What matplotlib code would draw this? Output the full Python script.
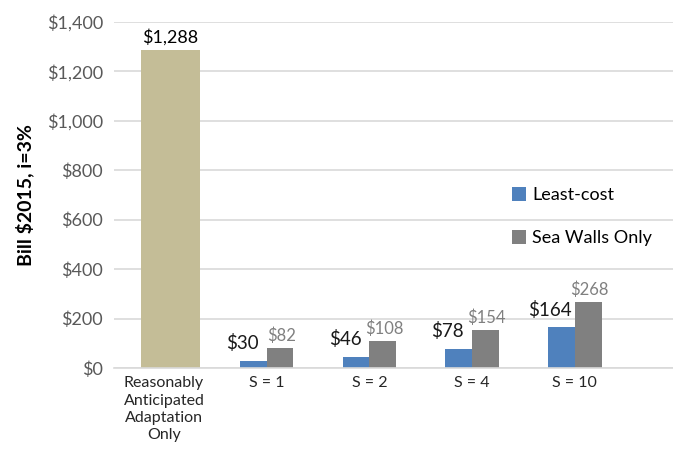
import matplotlib.pyplot as plt
from matplotlib.ticker import FuncFormatter

plt.rcParams["font.family"] = ["Lato", "DejaVu Sans"]

# Annual bill per scenario ($2015, 3% discount rate)
categories = ["Reasonably\nAnticipated\nAdaptation\nOnly", "S = 1", "S = 2", "S = 4", "S = 10"]
baseline_value = 1288
least_cost = [30, 46, 78, 164]
sea_walls = [82, 108, 154, 268]

TAN = "#C4BD97"
BLUE = "#4F81BD"
GRAY = "#808080"
GRID = "#D9D9D9"

fig = plt.figure(figsize=(6.73, 4.51), dpi=100)
ax = fig.add_axes([114 / 673, 1 - 368 / 451, (673 - 114) / 673, (368 - 22) / 451])

bar_w = 0.26
xs = list(range(1, len(categories)))

# baseline scenario: a single wide bar
base = ax.bar(0.063, baseline_value, width=0.575, color=TAN, zorder=2)
b1 = ax.bar([x - bar_w / 2 for x in xs], least_cost, width=bar_w, color=BLUE,
            label="Least-cost", zorder=2)
b2 = ax.bar([x + bar_w / 2 for x in xs], sea_walls, width=bar_w, color=GRAY,
            label="Sea Walls Only", zorder=2)

ax.annotate(f"${baseline_value:,}", (0.063, baseline_value), xytext=(0, 3),
            textcoords="offset points", ha="center", va="bottom",
            fontsize=13, color="black")
for rect, v in zip(b1, least_cost):
    ax.annotate(f"${v:,}", (rect.get_x() + rect.get_width() / 2, v),
                xytext=(-8, 6), textcoords="offset points", ha="center",
                va="bottom", fontsize=13.5, color="#1a1a1a")
for rect, v in zip(b2, sea_walls):
    ax.annotate(f"${v:,}", (rect.get_x() + rect.get_width() / 2, v),
                xytext=(1, 3), textcoords="offset points", ha="center",
                va="bottom", fontsize=12, color=GRAY)

ax.set_ylim(0, 1400)
ax.set_yticks(range(0, 1401, 200))
ax.yaxis.set_major_formatter(FuncFormatter(lambda v, _: f"${v:,.0f}"))
ax.set_xlim(-0.487, 4.956)
ax.set_xticks(range(len(categories)))
ax.set_xticklabels(categories, fontsize=11.5, color="#262626", linespacing=1.3)

ax.tick_params(axis="y", length=0, labelsize=13, labelcolor="#595959", pad=8)
ax.tick_params(axis="x", length=0, pad=6)
ax.grid(axis="y", color=GRID, linewidth=1.2, zorder=0)
for side in ["top", "right", "left"]:
    ax.spines[side].set_visible(False)
ax.spines["bottom"].set_color(GRID)
ax.spines["bottom"].set_linewidth(1.2)

ax.set_ylabel("Bill $2015, i=3%", fontsize=14, fontweight="bold")
ax.yaxis.set_label_coords((34 - 114) / 559, 0.5)

ax.legend(handles=[b1, b2], loc="upper left", bbox_to_anchor=(505 / 673, 1 - 180 / 451),
          bbox_transform=fig.transFigure, frameon=False, fontsize=13,
          handlelength=0.75, handleheight=0.75, handletextpad=0.35,
          labelspacing=1.5, borderaxespad=0)

fig.savefig("out.png", dpi=100)
